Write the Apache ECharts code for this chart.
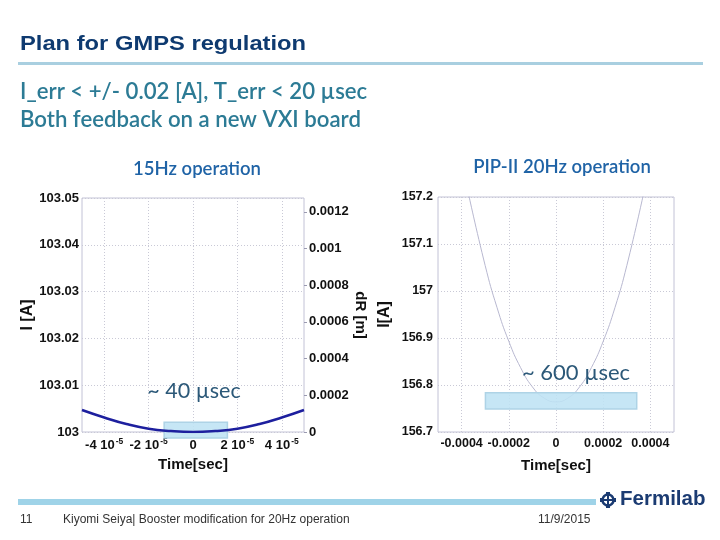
<!DOCTYPE html>
<html>
<head>
<meta charset="utf-8">
<script src="https://cdn.jsdelivr.net/npm/echarts@6/dist/echarts.min.js"></script>
<style>
html,body{margin:0;padding:0;background:#fff;}
#chart{width:720px;height:540px;}
</style>
</head>
<body>
<div id="chart"></div>
<script>
// ---------- data ----------
// 15Hz operation: time [sec] vs I [A]
const timeL = [-5e-5, -4e-5, -3e-5, -2e-5, -1e-5, 0, 1e-5, 2e-5, 3e-5, 4e-5, 5e-5];
const currentL = [103.0047, 103.0031, 103.0017, 103.0007, 103.0002, 103.0000, 103.0002, 103.0007, 103.0017, 103.0031, 103.0047];
// PIP-II 20Hz operation: time [sec] vs I [A]
const timeR = [-0.00037, -0.0003, -0.00025, -0.0002, -0.00015, -0.0001, -0.00005, 0, 0.00005, 0.0001, 0.00015, 0.0002, 0.00025, 0.0003, 0.00037];
const currentR = [157.205, 157.054, 156.965, 156.893, 156.837, 156.796, 156.772, 156.764, 156.772, 156.796, 156.837, 156.893, 156.965, 157.054, 157.205];
// highlighted windows [tStart, tEnd, iLow, iHigh]
const windowL = [-1.3e-5, 1.55e-5, 102.9987, 103.0021];
const windowR = [-0.000299, 0.000342, 156.749, 156.7836];
// tick values and labels
const xTicksL = [-4e-5, -2e-5, 0, 2e-5, 4e-5];
const xTickLabelsL = [['-4 10', '-5'], ['-2 10', '-5'], ['0', ''], ['2 10', '-5'], ['4 10', '-5']];
const dRTicks = [0, 0.0002, 0.0004, 0.0006, 0.0008, 0.001, 0.0012];
const xTicksR = [-0.0004, -0.0002, 0, 0.0002, 0.0004];
const xTickLabelsR = ['-0.0004', '-0.0002', '0', '0.0002', '0.0004'];

// ---------- styles ----------
const AX = 'Liberation Sans, Arial, sans-serif';
const CAL = 'Lato, "Open Sans", sans-serif';
const frame = '#c2c2d6';
const gridLine = { show: true, lineStyle: { color: '#c9c9d6', type: [1, 2], width: 1 } };
const tickLblL = { fontFamily: AX, fontWeight: 'bold', fontSize: 13, color: '#111' };
const tickLblR = { fontFamily: AX, fontWeight: 'bold', fontSize: 12.5, color: '#111' };
const nameSt = { fontFamily: AX, fontWeight: 'bold', fontSize: 15, color: '#111' };

function pairs(xs, ys) { return xs.map((x, i) => [x, ys[i]]); }

function boxSeries(xAxisIndex, yAxisIndex, w) {
  return {
    type: 'custom', xAxisIndex, yAxisIndex, z: 5, clip: false, silent: true,
    data: [w],
    renderItem: function (params, api) {
      const p1 = api.coord([api.value(0), api.value(3)]);
      const p2 = api.coord([api.value(1), api.value(2)]);
      return {
        type: 'rect',
        shape: { x: p1[0], y: p1[1], width: p2[0] - p1[0], height: p2[1] - p1[1] },
        style: { fill: 'rgba(190,226,244,0.88)', stroke: '#aed3e6', lineWidth: 1.5 }
      };
    }
  };
}

const chart = echarts.init(document.getElementById('chart'), null, { renderer: 'canvas' });

const option = {
  backgroundColor: '#ffffff',
  animation: false,
  grid: [
    { left: 82, top: 198, width: 222, height: 234, show: true, borderColor: frame, borderWidth: 1, containLabel: false },
    { left: 438, top: 197, width: 236, height: 235, show: true, borderColor: frame, borderWidth: 1, containLabel: false }
  ],
  xAxis: [
    {
      type: 'value', gridIndex: 0, min: -5e-5, max: 5e-5,
      axisLine: { show: false },
      axisTick: { show: false, customValues: xTicksL },
      splitLine: gridLine,
      axisLabel: {
        customValues: xTicksL, margin: 5,
        formatter: function (v) {
          let idx = 0, best = Infinity;
          xTicksL.forEach((t, i) => { const d = Math.abs(t - v); if (d < best) { best = d; idx = i; } });
          const l = xTickLabelsL[idx];
          return l[1] ? '{b|' + l[0] + '}{s|' + l[1] + '}' : '{b|' + l[0] + '}';
        },
        rich: {
          b: { fontFamily: AX, fontWeight: 'bold', fontSize: 13, color: '#111', lineHeight: 15, verticalAlign: 'bottom' },
          s: { fontFamily: AX, fontWeight: 'bold', fontSize: 8.5, color: '#111', lineHeight: 15, verticalAlign: 'top', padding: [0, 0, 0, 1] }
        }
      },
      name: 'Time[sec]', nameLocation: 'middle', nameGap: 25, nameTextStyle: nameSt
    },
    {
      type: 'value', gridIndex: 1, min: -0.0005, max: 0.0005,
      axisLine: { show: false },
      axisTick: { show: false, customValues: xTicksR },
      splitLine: gridLine,
      axisLabel: Object.assign({
        customValues: xTicksR, margin: 5,
        formatter: function (v) {
          let idx = 0, best = Infinity;
          xTicksR.forEach((t, i) => { const d = Math.abs(t - v); if (d < best) { best = d; idx = i; } });
          return xTickLabelsR[idx];
        }
      }, tickLblR),
      name: 'Time[sec]', nameLocation: 'middle', nameGap: 26, nameTextStyle: nameSt
    }
  ],
  yAxis: [
    {
      type: 'value', gridIndex: 0, position: 'left', min: 103, max: 103.05, interval: 0.01,
      axisLine: { show: false }, axisTick: { show: false },
      splitLine: gridLine,
      axisLabel: Object.assign({ margin: 3 }, tickLblL),
      name: 'I [A]', nameLocation: 'middle', nameGap: 44,
      nameTextStyle: Object.assign({}, nameSt, { fontSize: 16 })
    },
    {
      type: 'value', gridIndex: 0, position: 'right', min: 0, max: 0.001275,
      axisLine: { show: false },
      axisTick: { show: true, length: 3, customValues: dRTicks, lineStyle: { color: '#9a9ab0' } },
      splitLine: { show: false },
      axisLabel: Object.assign({ customValues: dRTicks, margin: 5 }, tickLblL),
      name: 'dR [m]', nameLocation: 'middle', nameGap: 49, nameRotate: -90, nameTextStyle: nameSt
    },
    {
      type: 'value', gridIndex: 1, position: 'left', min: 156.7, max: 157.2, interval: 0.1,
      axisLine: { show: false }, axisTick: { show: false },
      splitLine: gridLine,
      axisLabel: Object.assign({ margin: 5 }, tickLblR),
      name: 'I[A]', nameLocation: 'middle', nameGap: 45,
      nameTextStyle: Object.assign({}, nameSt, { fontSize: 16 })
    }
  ],
  series: [
    {
      type: 'line', xAxisIndex: 0, yAxisIndex: 0, smooth: true, symbol: 'none', z: 6,
      lineStyle: { color: '#1d1f9e', width: 2.5 },
      data: pairs(timeL, currentL)
    },
    boxSeries(0, 0, windowL),
    {
      type: 'line', xAxisIndex: 1, yAxisIndex: 2, smooth: true, symbol: 'none', z: 2,
      lineStyle: { color: '#b8b8d0', width: 1 },
      data: pairs(timeR, currentR)
    },
    boxSeries(1, 2, windowR)
  ],
  graphic: [
    { type: 'text', left: 20, top: 34, scaleX: 1.13, style: { text: 'Plan for GMPS regulation', font: 'bold 21px ' + AX, fill: '#0e3a70' } },
    { type: 'rect', left: 18, top: 62, shape: { width: 685, height: 3 }, style: { fill: '#a9cfe0' } },
    { type: 'text', x: 20, y: 92, style: { text: 'I_err < +/- 0.02 [A], T_err < 20 µsec', font: '600 22.2px ' + CAL, fill: '#2c7b95', verticalAlign: 'middle' } },
    { type: 'text', x: 20, y: 120, style: { text: 'Both feedback on a new VXI board', font: '600 22.2px ' + CAL, fill: '#2c7b95', verticalAlign: 'middle' } },
    { type: 'text', x: 197, y: 169, style: { text: '15Hz operation', font: '600 18.5px ' + CAL, fill: '#1f63a6', align: 'center', verticalAlign: 'middle' } },
    { type: 'text', x: 562, y: 167, style: { text: 'PIP-II 20Hz operation', font: '600 18.5px ' + CAL, fill: '#1f63a6', align: 'center', verticalAlign: 'middle' } },
    { type: 'text', x: 194, y: 391, z: 10, style: { text: '~ 40 µsec', font: '21.5px ' + CAL, fill: '#2b5878', align: 'center', verticalAlign: 'middle' } },
    { type: 'text', x: 576, y: 373, z: 10, style: { text: '~ 600 µsec', font: '22px ' + CAL, fill: '#2b5878', align: 'center', verticalAlign: 'middle' } },
    { type: 'rect', left: 18, top: 499, shape: { width: 578, height: 6 }, style: { fill: '#9fd3e8' } },
    { type: 'text', x: 20, y: 520, style: { text: '11', font: '12px ' + AX, fill: '#333', verticalAlign: 'middle' } },
    { type: 'text', x: 63, y: 520, style: { text: 'Kiyomi Seiya| Booster modification for 20Hz operation', font: '12px ' + AX, fill: '#333', verticalAlign: 'middle' } },
    { type: 'text', x: 538, y: 520, style: { text: '11/9/2015', font: '12px ' + AX, fill: '#333', verticalAlign: 'middle' } },
    {
      type: 'group', left: 600, top: 492,
      children: [
        { type: 'rect', shape: { x: 6, y: 0, width: 4, height: 16 }, style: { fill: '#1b3b72' } },
        { type: 'rect', shape: { x: 0, y: 6, width: 16, height: 4 }, style: { fill: '#1b3b72' } },
        { type: 'circle', shape: { cx: 8, cy: 8, r: 5.5 }, style: { fill: '#ffffff', stroke: '#1b3b72', lineWidth: 2.5 } },
        { type: 'rect', shape: { x: 7, y: 1, width: 2, height: 14 }, style: { fill: '#1b3b72' } },
        { type: 'rect', shape: { x: 1, y: 7, width: 14, height: 2 }, style: { fill: '#1b3b72' } }
      ]
    },
    { type: 'text', left: 620, top: 489, style: { text: 'Fermilab', font: 'bold 20.5px ' + AX, fill: '#1b3b72' } }
  ]
};
chart.setOption(option);
</script>
</body>
</html>
